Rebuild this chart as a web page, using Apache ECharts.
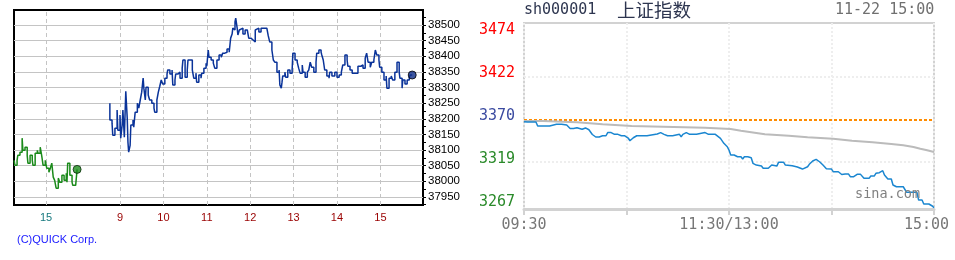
<!DOCTYPE html>
<html><head><meta charset="utf-8">
<script src="https://cdn.jsdelivr.net/npm/echarts@6/dist/echarts.min.js"></script>
<style>html,body{margin:0;padding:0;background:#fff}#c{width:955px;height:260px}</style>
</head><body><div id="c"></div>
<script>
// ================= Left chart (QUICK, intraday with previous session tail) =================
const prevTimes = ['14:16','14:17','14:20','14:21','14:24','14:27','14:28','14:31','14:34','14:35','14:38','14:41','14:42','14:45','14:48','14:49','14:52','14:54','14:56','14:59','15:01','15:04','15:06','15:08','15:10','15:12','15:14','15:17','15:19','15:22','15:25','15:28','15:29','15:30','15:33','15:36','15:37','15:41','15:43'];
const prevValues = [38067,38051,38067,38083,38093,38138,38099,38109,38083,38058,38083,38067,38051,38090,38099,38090,38109,38083,38051,38067,38042,38029,38042,38058,38013,38003,37978,38010,37997,38019,38003,38026,37997,38058,38019,37997,37987,37987,38038];

const todayTimes = ['8:46','8:46','8:49','8:50','8:53','8:56','8:57','9:00','9:01','9:03','9:04','9:06','9:08','9:10','9:11','9:12','9:14','9:15','9:18','9:19','9:21','9:24','9:26','9:28','9:30','9:32','9:33','9:35','9:36','9:39','9:41','9:44','9:47','9:48','9:51','9:53','9:55','9:57','9:59','10:02','10:05','10:06','10:09','10:12','10:13','10:16','10:17','10:20','10:23','10:26','10:27','10:30','10:33','10:34','10:37','10:40','10:42','10:45','10:46','10:49','10:52','10:53','10:56','10:59','11:00','11:02','11:03','11:06','11:09','11:11','11:14','11:17','11:20','11:22','11:25','11:28','11:31','11:32','11:33','11:35','11:36','11:38','11:39','11:40','11:42','11:43','11:45','11:47','11:50','11:53','11:56','11:58','12:01','12:04','12:07','12:09','12:12','12:15','12:18','12:20','12:23','12:25','12:27','12:30','12:32','12:34','12:37','12:40','12:41','12:43','12:44','12:45','12:48','12:49','12:52','12:55','12:58','12:59','13:02','13:05','13:07','13:09','13:12','13:13','13:16','13:19','13:21','13:23','13:25','13:28','13:31','13:32','13:35','13:38','13:39','13:41','13:43','13:46','13:49','13:50','13:53','13:57','14:00','14:03','14:06','14:08','14:11','14:14','14:15','14:18','14:21','14:24','14:26','14:29','14:33','14:36','14:39','14:41','14:43','14:46','14:48','14:51','14:53','14:55','14:58','14:59','15:02','15:05','15:08','15:09','15:12','15:15','15:17','15:20','15:23','15:24','15:26','15:27','15:30','15:31','15:34','15:37','15:40','15:41','15:44'];
const todayValues = [38250,38196,38186,38147,38170,38228,38163,38212,38138,38180,38228,38141,38288,38202,38125,38093,38115,38180,38196,38173,38221,38250,38234,38260,38285,38330,38298,38260,38301,38276,38260,38250,38234,38221,38260,38285,38304,38324,38311,38330,38343,38356,38343,38356,38308,38324,38343,38349,38330,38362,38388,38333,38356,38388,38388,38356,38330,38346,38317,38340,38330,38346,38362,38378,38368,38420,38397,38388,38378,38362,38388,38404,38397,38410,38413,38423,38413,38436,38458,38471,38490,38484,38510,38522,38490,38468,38484,38490,38471,38484,38490,38458,38452,38446,38484,38490,38478,38490,38484,38490,38490,38465,38446,38420,38388,38381,38349,38356,38308,38298,38317,38337,38349,38333,38356,38346,38356,38410,38388,38381,38362,38346,38372,38349,38333,38349,38356,38381,38365,38349,38381,38410,38420,38413,38404,38388,38356,38337,38330,38349,38337,38349,38333,38340,38349,38372,38404,38388,38368,38356,38346,38340,38346,38368,38372,38362,38394,38410,38381,38365,38381,38388,38420,38404,38388,38365,38349,38324,38337,38298,38330,38337,38324,38349,38381,38381,38349,38330,38298,38324,38311,38324,38333,38340,38340];

const nkYLabelValues = [37950,38000,38050,38100,38150,38200,38250,38300,38350,38400,38450,38500];
const nkYTickValues = [37925,37950,37975,38000,38025,38050,38075,38100,38125,38150,38175,38200,38225,38250,38275,38300,38325,38350,38375,38400,38425,38450,38475,38500,38525];
const nkXTickTimes = ['15:00','9:00','10:00','11:00','12:00','13:00','14:00','15:00'];
const nkXTickPrev = [true,false,false,false,false,false,false,false];
const nkXTickLabels = ['15','9','10','11','12','13','14','15'];

// ================= Right chart (sina sh000001) =================
const shMinutes = [0,2,7,8,12,13,15,19,22,23,25,27,29,31,34,36,38,40,42,44,46,48,49,51,53,55,57,59,60,61,62,64,66,72,73,78,80,82,84,87,88,91,92,93,95,96,97,101,102,106,108,112,113,115,117,119,120,121,122,123,125,127,128,129,131,133,134,136,137,139,140,143,145,146,148,149,152,153,157,158,160,161,163,164,166,167,169,170,171,173,175,177,178,180,181,184,186,187,188,190,191,193,195,197,198,199,202,203,205,206,208,209,210,211,213,215,216,218,222,224,230,231,233,234,237,239,240];
const shPrices = [3367.5,3367.1,3367.1,3362.3,3362.3,3363.5,3362.3,3364.4,3364.4,3363.5,3363.5,3359.3,3359.3,3360.3,3358.4,3360.0,3357.8,3352.1,3349.1,3349.1,3350.6,3350.6,3354.4,3354.4,3352.3,3352.3,3350.6,3350.6,3352.3,3347.9,3344.6,3348.2,3350.6,3350.6,3352.7,3352.7,3354.4,3352.3,3350.6,3350.6,3352.3,3352.3,3349.4,3352.3,3354.4,3354.4,3352.3,3352.3,3354.4,3354.4,3352.3,3352.3,3350.6,3347.5,3341.5,3337.4,3333.4,3327.4,3325.3,3327.4,3325.3,3325.3,3322.6,3325.3,3325.3,3324.1,3317.4,3315.3,3314.1,3314.1,3311.4,3311.4,3315.3,3314.1,3314.1,3318.6,3318.6,3315.3,3314.5,3312.9,3312.9,3310.5,3310.5,3308.5,3313.3,3316.2,3320.2,3322.2,3322.2,3319.3,3315.3,3311.0,3310.5,3310.5,3307.3,3307.3,3303.9,3303.9,3304.5,3304.5,3301.3,3301.3,3304.1,3304.1,3302.1,3299.3,3299.3,3302.1,3302.1,3305.4,3306.1,3308.5,3308.5,3303.3,3298.5,3298.5,3291.3,3289.2,3289.2,3282.5,3282.5,3273.2,3273.2,3268.4,3268.4,3266.0,3263.9];
const shAvgMinutes = [0,11,31,46,63,106,121,127,135,141,155,166,181,192,204,215,222,228,232,236,240];
const shAvgValues = [3368.4,3366.8,3364.4,3362.3,3360.3,3358.7,3356.7,3354.3,3352.3,3350.6,3348.7,3347.0,3344.6,3342.7,3340.6,3339.1,3337.1,3335.0,3333.1,3331.0,3331.0];
const shPrevClose = 3370.4;
const shYTicks = [3267, 3319, 3370.4, 3422, 3474];
const shGridY = [3319, 3422];
const shXLabels = ['09:30', '', '11:30/13:00', '', '15:00'];

// ---------- helpers ----------
const PREV_SHIFT_H = 7.705; // previous session drawn just left of today's session
function hm(t){ const p = t.split(':').map(Number); return p[0] + p[1]/60; }
const prevData = prevTimes.map((t,i)=>[hm(t) - PREV_SHIFT_H, prevValues[i]]);
const todayData = todayTimes.map((t,i)=>[hm(t), todayValues[i]]);
const nkXTickPos = nkXTickTimes.map((t,i)=> hm(t) - (nkXTickPrev[i] ? PREV_SHIFT_H : 0));
const shPriceData = shMinutes.map((m,i)=>[m, shPrices[i]]);
const shAvgData = shAvgMinutes.map((m,i)=>[m, shAvgValues[i]]);

const leftFont = 'Liberation Sans';
const monoFont = 'DejaVu Sans Mono';

const chart = echarts.init(document.getElementById('c'), null, {renderer: 'canvas'});
chart.setOption({
  animation: false,
  backgroundColor: '#fff',
  title: [
    {text: '(C)QUICK Corp.', left: 17, top: 234, padding: 0,
     textStyle: {fontFamily: leftFont, fontSize: 11, fontWeight: 'normal', color: '#1a1aff'}},
    {text: 'sh000001', left: 524, top: 3, padding: 0,
     textStyle: {fontFamily: monoFont, fontSize: 15, fontWeight: 'normal', color: '#2e3650'}},
    {text: '上证指数', left: 617, top: 1, padding: 0,
     textStyle: {fontFamily: 'Noto Sans CJK SC', fontSize: 18.5, fontWeight: 'normal', color: '#2e3650'}},
    {text: '11-22 15:00', left: 835, top: 3, padding: 0,
     textStyle: {fontFamily: monoFont, fontSize: 15, fontWeight: 'normal', color: '#707070'}},
    {text: 'sina.com', left: 855, top: 187, padding: 0,
     textStyle: {fontFamily: monoFont, fontSize: 13.5, fontWeight: 'normal', color: '#808080'}}
  ],
  grid: [
    {left: 14, top: 10, width: 409, height: 195, show: true, borderColor: '#000', borderWidth: 2, backgroundColor: 'transparent'},
    {left: 524, top: 23, width: 410, height: 186, show: true, borderColor: '#d2d2d2', borderWidth: 2, backgroundColor: 'transparent'}
  ],
  xAxis: [
    {type: 'value', gridIndex: 0, min: 6.5576, max: 15.982,
     axisLine: {show: false}, axisTick: {show: false}, splitLine: {show: false},
     axisLabel: {
       customValues: nkXTickPos, margin: 7, fontFamily: leftFont, fontSize: 11,
       formatter: function(v){
         let best = 0, bd = 1e9;
         nkXTickPos.forEach((p,i)=>{ const d = Math.abs(p - v); if (d < bd){bd = d; best = i;} });
         return nkXTickPrev[best] ? '{p|' + nkXTickLabels[best] + '}' : '{t|' + nkXTickLabels[best] + '}';
       },
       rich: {
         p: {color: '#17797f', fontFamily: leftFont, fontSize: 11},
         t: {color: '#990000', fontFamily: leftFont, fontSize: 11}
       }
     }},
    {type: 'value', gridIndex: 1, min: 0, max: 240, interval: 60,
     axisLine: {show: true, lineStyle: {color: '#d2d2d2', width: 3}},
     axisTick: {show: true, length: 6, lineStyle: {color: '#d2d2d2', width: 2}},
     splitLine: {show: true, lineStyle: {color: '#eeeeee', width: 2, type: [2, 2]}},
     axisLabel: {
       margin: 9, fontFamily: monoFont, fontSize: 15, color: '#777',
       formatter: function(v){
         const s = shXLabels[Math.round(v / 60)] || '';
         return v === 240 ? '{r|' + s + '}' : s;
       },
       rich: {r: {padding: [0, 15, 0, 0], fontFamily: monoFont, fontSize: 15, color: '#777'}}
     }}
  ],
  yAxis: [
    {type: 'value', gridIndex: 0, position: 'right', min: 37924, max: 38548,
     axisLine: {show: false},
     axisTick: {show: true, customValues: nkYTickValues, length: 3, lineStyle: {color: '#000', width: 1}},
     splitLine: {show: false},
     axisLabel: {customValues: nkYLabelValues, margin: 5, fontFamily: leftFont, fontSize: 11.5, color: '#000',
       formatter: function(v){ return String(Math.round(v)); }}},
    {type: 'value', gridIndex: 1, position: 'left', min: 3262.4, max: 3486.4,
     axisLine: {show: false}, axisTick: {show: false}, splitLine: {show: false},
     axisLabel: {
       customValues: shYTicks, margin: 9, fontFamily: monoFont, fontSize: 15,
       verticalAlign: 'bottom', lineHeight: 6,
       formatter: function(v){ return String(Math.round(v)); },
       color: function(v){ v = Number(v); return v > 3380 ? '#ff0000' : (v < 3360 ? '#2a8a2a' : '#3a4aa0'); }
     }}
  ],
  series: [
    {type: 'line', xAxisIndex: 0, yAxisIndex: 0, data: prevData, step: 'end', showSymbol: false, z: 3,
     lineStyle: {color: '#1a8a1a', width: 1.5},
     markLine: {silent: true, symbol: 'none', z: 1, label: {show: false}, animation: false,
       data: nkYLabelValues.map(v=>({yAxis: v, lineStyle: {color: '#c4c4c4', width: 1, type: 'solid'}}))
         .concat(nkXTickPos.map(p=>({xAxis: p, lineStyle: {color: '#c4c4c4', width: 1, type: [4, 3]}})))}},
    {type: 'line', xAxisIndex: 0, yAxisIndex: 0, data: todayData, step: 'end', showSymbol: false, z: 3,
     lineStyle: {color: '#0a3399', width: 1.5}},
    {type: 'scatter', xAxisIndex: 0, yAxisIndex: 0, z: 4, symbolSize: 8,
     data: [prevData[prevData.length - 1]],
     itemStyle: {color: '#1c8c1c', borderColor: '#0a2a0a', borderWidth: 1}},
    {type: 'scatter', xAxisIndex: 0, yAxisIndex: 0, z: 4, symbolSize: 8,
     data: [todayData[todayData.length - 1]],
     itemStyle: {color: '#0c2c88', borderColor: '#000', borderWidth: 1}},
    {type: 'line', xAxisIndex: 1, yAxisIndex: 1, data: shAvgData, step: 'end', showSymbol: false, z: 3,
     lineStyle: {color: '#bbbbbb', width: 2},
     markLine: {silent: true, symbol: 'none', z: 2, label: {show: false}, animation: false,
       data: shGridY.map(v=>({yAxis: v, lineStyle: {color: '#eeeeee', width: 2, type: [2, 2]}}))
         .concat([{yAxis: shPrevClose, lineStyle: {color: '#ff8c00', width: 2, type: [3, 2]}}])}},
    {type: 'line', xAxisIndex: 1, yAxisIndex: 1, data: shPriceData, showSymbol: false, z: 4,
     lineStyle: {color: '#1a86d0', width: 1.5}}
  ]
});
</script>
</body></html>
